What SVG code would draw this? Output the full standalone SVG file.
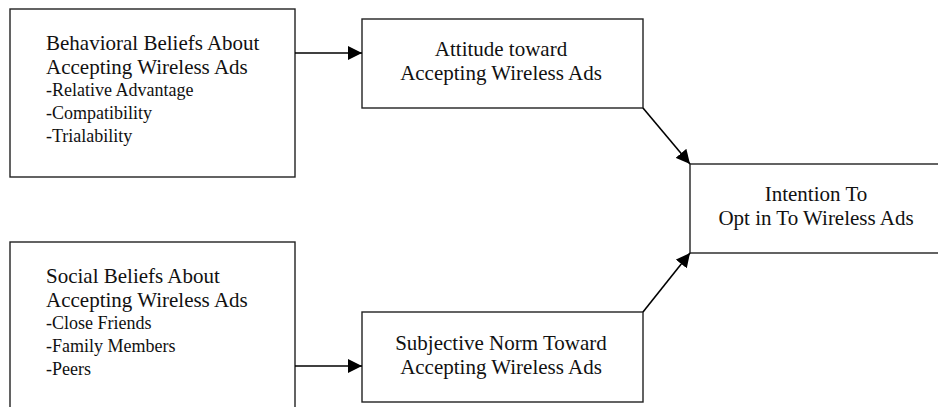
<svg xmlns="http://www.w3.org/2000/svg" width="938" height="407" viewBox="0 0 938 407">
  <style>
    .box { fill: #ffffff; stroke: #222222; stroke-width: 1.4; }
    .big { font-family: "Liberation Serif", "Times New Roman", serif; font-size: 21px; fill: #111111; }
    .small { font-family: "Liberation Serif", "Times New Roman", serif; font-size: 18px; fill: #111111; }
    .mid { text-anchor: middle; }
    .link { stroke: #000000; stroke-width: 1.6; fill: none; marker-end: url(#arrow); }
  </style>
  <defs>
    <marker id="arrow" markerUnits="userSpaceOnUse" markerWidth="15" markerHeight="14" refX="14" refY="7" orient="auto">
      <path d="M0,0 L14,7 L0,14 Z" fill="#000000"/>
    </marker>
  </defs>
  <rect width="938" height="407" fill="#ffffff"/>

  <g id="behavioral-beliefs">
    <rect class="box" x="10" y="9" width="285" height="168"/>
    <text class="big" x="46" y="50">Behavioral Beliefs About</text>
    <text class="big" x="46" y="74">Accepting Wireless Ads</text>
    <text class="small" x="46" y="96">-Relative Advantage</text>
    <text class="small" x="46" y="119">-Compatibility</text>
    <text class="small" x="46" y="142">-Trialability</text>
  </g>

  <g id="attitude">
    <rect class="box" x="362" y="19" width="281" height="89"/>
    <text class="big mid" x="501" y="56">Attitude toward</text>
    <text class="big mid" x="501" y="80">Accepting Wireless Ads</text>
  </g>

  <g id="intention">
    <rect class="box" x="690" y="164" width="260" height="89"/>
    <text class="big mid" x="816" y="201">Intention To</text>
    <text class="big mid" x="816" y="225">Opt in To Wireless Ads</text>
  </g>

  <g id="social-beliefs">
    <rect class="box" x="10" y="242" width="285" height="180"/>
    <text class="big" x="46" y="283">Social Beliefs About</text>
    <text class="big" x="46" y="307">Accepting Wireless Ads</text>
    <text class="small" x="46" y="329">-Close Friends</text>
    <text class="small" x="46" y="352">-Family Members</text>
    <text class="small" x="46" y="375">-Peers</text>
  </g>

  <g id="subjective-norm">
    <rect class="box" x="362" y="312" width="281" height="90"/>
    <text class="big mid" x="501" y="350">Subjective Norm Toward</text>
    <text class="big mid" x="501" y="374">Accepting Wireless Ads</text>
  </g>

  <g id="connectors">
    <line class="link" x1="295" y1="53" x2="362" y2="53"/>
    <line class="link" x1="643" y1="108" x2="690" y2="164"/>
    <line class="link" x1="295" y1="366" x2="362" y2="366"/>
    <line class="link" x1="643" y1="312" x2="690" y2="253"/>
  </g>
</svg>
